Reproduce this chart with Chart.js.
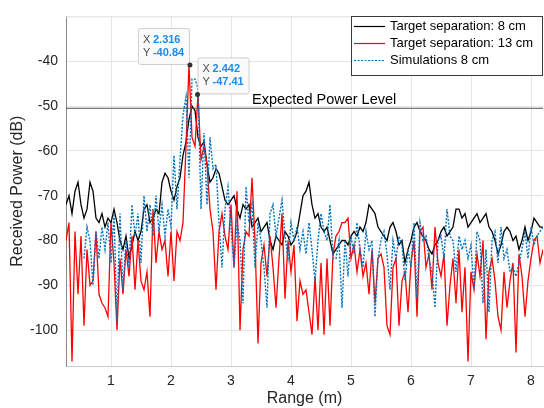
<!DOCTYPE html>
<html>
<head>
<meta charset="utf-8">
<script src="https://cdn.jsdelivr.net/npm/chart.js@4"></script>
<style>
  html, body { margin: 0; padding: 0; background: #fff; }
  #chart { display: block; }
</style>
</head>
<body>
<canvas id="chart" width="544" height="408"></canvas>
<script>
// sampling grid of the range axis (m), 0.25 .. 8.2
const rangeM = Array.from({ length: 160 }, (_, i) => +(0.25 + i * 0.05).toFixed(2));

// Target separation: 8 cm (dB)
const sep8cm = [
  -72, -70, -74, -69, -67, -72, -75, -73, -67, -69,
  -75, -76, -74, -77, -75, -76, -73, -76, -80, -82,
  -79, -84, -81, -78, -80, -78, -73, -72, -76, -75,
  -73, -74, -67, -65, -66, -69, -71, -68, -66, -61,
  -58, -53, -50, -51, -57, -59, -58, -63, -67, -66,
  -64, -65, -68, -71, -72, -71, -70, -73, -75, -72,
  -73, -72, -77, -76, -75, -78, -77, -76, -80, -82,
  -79, -80, -81, -78, -79, -81, -80, -78, -74, -70,
  -69, -67, -72, -75, -74, -77, -78, -77, -80, -83,
  -82, -81, -80, -80, -81, -79, -78, -79, -77, -78,
  -76, -72, -73, -74, -77, -78, -79, -80, -77, -76,
  -78, -81, -80, -85, -82, -80, -77, -76, -78, -79,
  -80, -82, -83, -81, -80, -78, -77, -79, -78, -77,
  -73, -73, -75, -74, -77, -76, -75, -74, -76, -75,
  -74, -77, -78, -80, -83, -81, -78, -77, -78, -80,
  -79, -82, -80, -77, -80, -78, -75, -76, -77, -77
];

// Target separation: 13 cm (dB)
const sep13cm = [
  -80, -76, -107, -78, -92, -79, -99, -82, -90, -89,
  -78, -92, -94, -95, -97, -76, -85, -100, -84, -92,
  -82, -88, -79, -91, -80, -89, -91, -87, -97, -73,
  -85, -78, -82, -80, -88, -78, -89, -78, -80, -76,
  -59, -40.84, -57, -59, -47.41, -62, -59, -63, -73, -78,
  -91, -78, -74, -79, -82, -72, -86, -69, -100, -82,
  -78, -79, -66, -80, -103, -85, -81, -88, -79, -86,
  -95, -84, -74, -93, -80, -87, -81, -98, -89, -92,
  -91, -96, -101, -88, -100, -85, -101, -84, -99, -83,
  -79, -78, -76, -76, -75, -84, -81, -87, -82, -88,
  -85, -92, -82, -94, -84, -83, -86, -99, -101, -86,
  -84, -99, -89, -87, -96, -85, -80, -97, -78, -77,
  -86, -83, -91, -77, -85, -88, -83, -99, -90, -84,
  -94, -82, -96, -86, -107, -87, -91, -83, -88, -80,
  -102, -87, -84, -89, -97, -100, -87, -95, -89, -85,
  -105, -83, -88, -97, -89, -84, -80, -79, -85, -82
];

// Simulations 8 cm (dB)
const sim8cm = [
  null, null, null, null, null, null, -84, -77, -80, -90,
  -78, -84, -77, -82, -76, -85, -74, -98, -74, -91,
  -80, -86, -72, -79, -74, -85, -70, -78, -72, -79,
  -70, -78, -72, -79, -73, -77, -61, -73, -62, -52,
  -48, -66, -44, -44, -46, -73, -56, -72, -57, -64,
  -63, -76, -86, -73, -68, -77, -86, -76, -80, -94,
  -68, -76, -72, -86, -76, -80, -86, -95, -74, -72,
  -79, -75, -71, -79, -84, -76, -80, -77, -82, -78,
  -83, -76, -82, -89, -80, -74, -78, -80, -72, -84,
  -84, -80, -95, -80, -88, -79, -83, -76, -82, -86,
  -78, -82, -80, -97, -84, -80, -78, -83, -91, -80,
  -84, -79, -81, -89, -82, -86, -76, -93, -76, -80,
  -79, -84, -87, -95, -80, -79, -84, -73, -79, -80,
  -87, -79, -82, -80, -84, -81, -91, -78, -80, -94,
  -82, -96, -80, -78, -85, -77, -84, -82, -87, -86,
  -88, -85, -82, -78, -84, -77, -81, -79, -78, -77
];

const expectedPower = -50.5;
const expectedLabel = 'Expected Power Level';
const rangeTicks = [1, 2, 3, 4, 5, 6, 7, 8];
const powerTicks = [-100, -90, -80, -70, -60, -50, -40];
const tipRange = [2.316, 2.442];
const tipPower = [-40.84, -47.41];
const seriesNames = ['Target separation: 8 cm', 'Target separation: 13 cm', 'Simulations 8 cm'];

const FONT = '"Liberation Sans", Arial, Helvetica, sans-serif';
const TEXT = '#262626';
Chart.defaults.font.family = FONT;

function pairs(values) {
  return values.map((v, i) => ({ x: rangeM[i], y: v }));
}

const overlay = {
  id: 'overlay',
  afterDatasetsDraw(chart) {
    const { ctx, chartArea: a, scales: { x, y } } = chart;
    ctx.save();

    // light top frame
    ctx.strokeStyle = '#dddddd';
    ctx.lineWidth = 1;
    ctx.beginPath();
    ctx.moveTo(a.left, a.top + 0.5);
    ctx.lineTo(a.right, a.top + 0.5);
    ctx.stroke();

    // expected power label
    ctx.fillStyle = '#000';
    ctx.font = '14.5px ' + FONT;
    ctx.textAlign = 'left';
    ctx.textBaseline = 'alphabetic';
    ctx.fillText(expectedLabel, x.getPixelForValue(3.35), y.getPixelForValue(expectedPower) - 4);

    // legend box
    const lx = a.right - 192, ly = 16;
    ctx.fillStyle = '#fff';
    ctx.fillRect(lx, ly, 192, 60);
    ctx.strokeStyle = '#3a3a3a';
    ctx.strokeRect(lx + 0.5, ly + 0.5, 191, 59);
    const ds = chart.data.datasets;
    ctx.font = '13px ' + FONT;
    ctx.textBaseline = 'middle';
    for (let i = 0; i < 3; i++) {
      const ry = ly + 10 + i * 17;
      ctx.strokeStyle = ds[i].borderColor;
      ctx.lineWidth = 1.2;
      ctx.setLineDash(ds[i].borderDash || []);
      ctx.beginPath();
      ctx.moveTo(lx + 3, ry + 0.5);
      ctx.lineTo(lx + 34, ry + 0.5);
      ctx.stroke();
      ctx.setLineDash([]);
      ctx.fillStyle = '#000';
      ctx.fillText(seriesNames[i], lx + 39, ry);
    }

    // data tips
    for (let i = 0; i < tipRange.length; i++) {
      const px = x.getPixelForValue(tipRange[i]);
      const py = y.getPixelForValue(tipPower[i]);
      const w = 51, h = 36;
      const bx = i === 0 ? px - 1 - w : px;
      const by = py - 1 - h;
      ctx.fillStyle = 'rgba(250,250,250,0.95)';
      ctx.strokeStyle = '#cfcfcf';
      ctx.lineWidth = 1;
      ctx.beginPath();
      ctx.roundRect(bx + 0.5, by + 0.5, w, h, 2);
      ctx.fill();
      ctx.stroke();
      ctx.textAlign = 'left';
      ctx.textBaseline = 'middle';
      ctx.fillStyle = '#4d4d4d';
      ctx.font = '11px ' + FONT;
      ctx.fillText('X', bx + 5, by + 12);
      ctx.fillText('Y', bx + 5, by + 25);
      ctx.fillStyle = '#1a8cf0';
      ctx.font = 'bold 11px ' + FONT;
      ctx.fillText(tipRange[i].toFixed(3), bx + 15, by + 12);
      ctx.fillText(tipPower[i].toFixed(2), bx + 15, by + 25);
      ctx.fillStyle = '#333';
      ctx.beginPath();
      ctx.arc(px, py, 2.5, 0, Math.PI * 2);
      ctx.fill();
    }
    ctx.restore();
  }
};

new Chart(document.getElementById('chart'), {
  type: 'line',
  data: {
    datasets: [
      { label: seriesNames[0], data: pairs(sep8cm), borderColor: '#000000', borderWidth: 1.3, order: 3 },
      { label: seriesNames[1], data: pairs(sep13cm), borderColor: '#ff0000', borderWidth: 1.3, order: 2 },
      { label: seriesNames[2], data: pairs(sim8cm), borderColor: '#0072bd', borderWidth: 1.4, borderDash: [2, 1.5], order: 1 },
      {
        label: 'expected',
        data: [{ x: 0.25, y: expectedPower }, { x: 8.2, y: expectedPower }],
        borderColor: '#555555', borderWidth: 1, order: 0
      }
    ]
  },
  options: {
    responsive: false,
    animation: false,
    layout: { padding: { top: 7, right: 1, left: 0, bottom: 0 } },
    plugins: { legend: { display: false }, tooltip: { enabled: false } },
    elements: {
      point: { radius: 0 },
      line: { borderWidth: 1.2, tension: 0 }
    },
    scales: {
      x: {
        type: 'linear',
        min: 0.25,
        max: 8.2,
        afterBuildTicks: s => { s.ticks = rangeTicks.map(v => ({ value: v })); },
        afterFit: s => { s.height = 42; },
        grid: { color: '#e6e6e6', drawTicks: false },
        border: { color: '#cccccc' },
        ticks: { padding: 7, color: TEXT, font: { size: 14 } },
        title: { display: true, text: 'Range (m)', color: TEXT, font: { size: 16 }, padding: { top: 0, bottom: 0 } }
      },
      y: {
        min: -108,
        max: -30,
        afterBuildTicks: s => { s.ticks = powerTicks.map(v => ({ value: v })); },
        afterFit: s => { s.width = 66; },
        grid: { color: '#e6e6e6', drawTicks: false },
        border: { color: '#8a8a8a' },
        ticks: { padding: 8, color: TEXT, font: { size: 14 } },
        title: { display: true, text: 'Received Power (dB)', color: TEXT, font: { size: 16 }, padding: { top: 8, bottom: 0 } }
      }
    }
  },
  plugins: [overlay]
});
</script>
</body>
</html>
